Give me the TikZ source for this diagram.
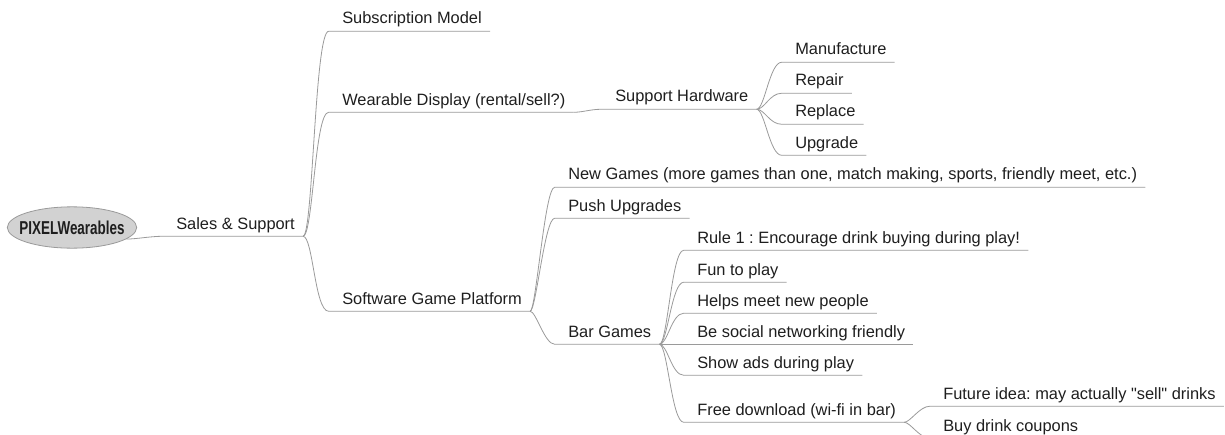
\documentclass[tikz,border=0pt]{standalone}
\usepackage{fontspec}
\newfontfamily\topicfont{Liberation Sans}
\usetikzlibrary{shapes.geometric}
\definecolor{linegray}{HTML}{9A9A9A}
\definecolor{rootfill}{HTML}{D2D2D2}
\definecolor{inkgray}{HTML}{1E1E1E}

\begin{document}
\frenchspacing
\begin{tikzpicture}[x=0.75pt,y=-0.75pt]
  \tikzset{topic/.style={anchor=base west,inner xsep=6pt,inner ysep=0pt,
      text height=8.6pt,text depth=5.25pt,
      font=\topicfont\fontsize{12.3}{14}\selectfont,text=inkgray},
    branch/.style={draw=linegray,line width=0.6pt},
    root/.style={ellipse,draw=linegray,fill=rootfill,line width=0.6pt,
      minimum width=97pt,minimum height=31pt,inner xsep=-6pt,inner ysep=0pt,
      font=\topicfont\fontsize{14}{16}\selectfont\bfseries,text=inkgray}}

  %% keep the page at the size of the screenshot
  \clip (0,0) rectangle (1225,435);

  %% Central topic and first level
  \node[root] (pixel) at (72,227.5) {\scalebox{0.72}[1]{PIXELWearables}};
  \node[topic] (sales) at (168,229) {Sales \& Support};

  %% Second level
  \node[topic] (sub)  at (334,24)  {Subscription Model};
  \node[topic] (wear) at (334,105) {Wearable Display (rental/sell?)};
  \node[topic] (soft) at (334,304) {Software Game Platform};

  %% Hardware side
  \node[topic] (hw)      at (607,102) {Support Hardware};
  \node[topic] (manu)    at (787,55)  {Manufacture};
  \node[topic] (repair)  at (787,86)  {Repair};
  \node[topic] (replace) at (787,117) {Replace};
  \node[topic] (upgrade) at (787,148) {Upgrade};

  %% Software side
  \node[topic] (newg) at (560,180) {New Games (more games than one, match making, sports, friendly meet, etc.)};
  \node[topic] (push) at (560,211) {Push Upgrades};
  \node[topic] (bar)  at (560,337) {Bar Games};

  \node[topic] (rule)   at (689,243) {Rule 1 : Encourage drink buying during play!};
  \node[topic] (fun)    at (689,275) {Fun to play};
  \node[topic] (helps)  at (689,306) {Helps meet new people};
  \node[topic] (social) at (689,337) {Be social networking friendly};
  \node[topic] (ads)    at (689,368) {Show ads during play};
  \node[topic] (free)   at (689,415) {Free download (wi-fi in bar)};

  \node[topic] (future)  at (935,399) {Future idea: may actually "sell" drinks};
  \node[topic] (coupons) at (935,431) {Buy drink coupons};

  %% Curved branches, each one ends in the underline of its topic
  \draw[branch] (pixel.-12) .. controls +(10,0) and +(-12,0)
    .. ([xshift=-4pt]sales.south west) -- (sales.south east);
  \foreach \kid in {sub,wear,soft}
    \draw[branch] (sales.south east) .. controls +(10,0) and +(-14,0)
      .. ([xshift=-4pt]\kid.south west) -- (\kid.south east);
  \draw[branch] (wear.south east) .. controls +(10,0) and +(-12,0)
    .. ([xshift=-4pt]hw.south west) -- (hw.south east);
  \foreach \kid in {manu,repair,replace,upgrade}
    \draw[branch] (hw.south east) .. controls +(8,0) and +(-12,0)
      .. ([xshift=-4pt]\kid.south west) -- (\kid.south east);
  \foreach \kid in {newg,push,bar}
    \draw[branch] (soft.south east) .. controls +(6,0) and +(-10,0)
      .. ([xshift=-4pt]\kid.south west) -- (\kid.south east);
  \foreach \kid in {rule,fun,helps,social,ads,free}
    \draw[branch] (bar.south east) .. controls +(8,0) and +(-12,0)
      .. ([xshift=-4pt]\kid.south west) -- (\kid.south east);
  \foreach \kid in {future,coupons}
    \draw[branch] (free.south east) .. controls +(6,0) and +(-10,0)
      .. ([xshift=-4pt]\kid.south west) -- (\kid.south east);
\end{tikzpicture}
\end{document}
